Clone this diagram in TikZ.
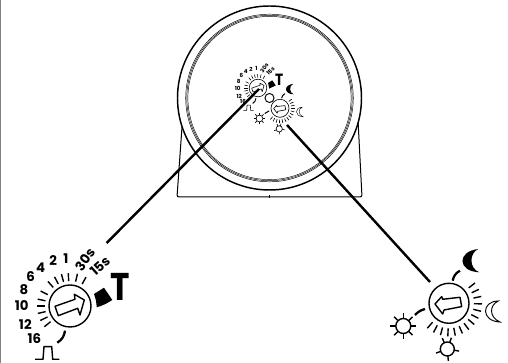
\documentclass[tikz,border=0pt]{standalone}
\usepackage{fontspec}
\setmainfont{Poppins}
\usepackage{tikz}
% timer dial, drawn around the origin; #1 = place, #2 = scale
\newcommand{\dialtimer}[2]{%
  \begin{scope}[shift={(#1)}, scale=#2, transform shape, line width=#2*1.05pt]
    \draw (0,0) circle (21);
    \foreach \a in {61,77,93,105,118,132,153,168,180,193,206,219}
      \draw (\a:25) -- (\a:33);
    \draw[line join=round] (-15,-0.3) -- (5,6.7) -- (4.3,11.7) -- (14.3,6) -- (10,-9) -- (7.7,-2.3) -- (-11.7,-9.7) -- cycle;
    \foreach \t/\x/\y/\r in {15s/30/40/42, 30s/15/46.7/55, 1/-4/47/0, 2/-16.7/45.3/0, 4/-29.3/38.7/0, 6/-39.3/29.3/0, 8/-46/16/0, 10/-48.3/0/0, 12/-44.7/-19/0, 16/-35.7/-33/0}
      \node[dialtext, rotate=\r] at (\x,\y) {\t};
    \fill (24,12) -- (34,18.3) -- (42.3,6) to[bend left=8] (26.7,-1.3) to[bend right=8] cycle;
    \node[dialtext, font=\fontsize{29}{29}\selectfont\bfseries, xscale=0.85] at (50.7,19.3) {T};
    \draw[line width=#2*1.7pt] (-5,-24.7) to[bend left=25] (-12.7,-36.7);
    \draw (-35,-53.3) -- (-27,-53.3) -- (-26,-40.7) -- (-18.3,-40.7) -- (-17.3,-53.3) -- (-10.7,-53.3);
  \end{scope}}
% day/night dial
\newcommand{\dialsun}[2]{%
  \begin{scope}[shift={(#1)}, scale=#2, transform shape, line width=#2*1.05pt]
    \draw (0,0) circle (20);
    \foreach \a in {38,25,12,-1,-14,-27,-40,-53,-66,-79,-92,-105,-118,-131}
      \draw (\a:25) -- (\a:33);
    \draw[line join=round] (-14,-0.7) -- (-7.3,6.7) -- (-6.3,4) -- (11,6) -- (12.7,-3.3) -- (-5,-6.7) -- (-6.3,-10.7) -- cycle;
    \draw[line width=#2*1.7pt] (3.7,22.6) to[bend left=25] (11,32.6);
    \draw[line width=#2*1.7pt] (-34,-11.7) to[bend left=15] (-24,-5.7);
    \fill (29.3,54.3) .. controls (8,52) and (8,32) .. (30.3,31) .. controls (20,35) and (20,50) .. cycle;
    \draw[line width=#2*0.7pt] (49.3,2.3) .. controls (32,2) and (32,-18) .. (51,-18.7) .. controls (40,-14) and (40,-2) .. cycle;
    \draw (-45.7,-22.7) circle (7.5);
    \foreach \a in {0,45,...,315}
      \draw ([shift={(\a:8)}]-45.7,-22.7) -- ([shift={(\a:13)}]-45.7,-22.7);
    \draw (-1.7,-45.7) circle (7);
    \foreach \a in {70,115,-10,200,-85}
      \draw ([shift={(\a:7)}]-1.7,-45.7) -- ([shift={(\a:12)}]-1.7,-45.7);
  \end{scope}}
\begin{document}
\begin{tikzpicture}[
    x=0.75pt, y=0.75pt,
    dialtext/.style={inner sep=0pt, font=\fontsize{10}{10}\selectfont\bfseries},
    wheel/.style={draw, circle, line width=1.1pt, minimum size=138pt, inner sep=0pt},
    ring/.style={line width=0.35pt},
    hub/.style={draw, circle, line width=0.7pt, minimum size=6.8pt, inner sep=0pt},
    leader/.style={line width=1.8pt}
  ]
  \useasboundingbox (0,0) rectangle (508,363);
  \draw[gray, line width=1.1pt] (0.5,0) -- (0.5,363);

  % stand
  \draw[line width=0.75pt, rounded corners=1.5pt] (182,236) -- (177,166) -- (362,166) -- (358,243);
  \draw[line width=0.5pt] (269,168) -- (269,165);

  \node[wheel, fill=white] (wheel) at (269.5,265) {};
  \foreach \r in {83.8,82.7,81.6}
    \draw[ring] (wheel.center) circle (\r);
  \node[hub] (hub) at (wheel.center) {};

  \dialtimer{258,275}{0.42}
  \dialsun{280,254.7}{0.45}
  \dialtimer{70,57}{1}
  \dialsun{449,59.7}{1}

  \coordinate (timerfar) at (106.7,120);
  \coordinate (timernear) at (259,274);
  \coordinate (sunfar) at (430,81);
  \coordinate (sunnear) at (287,238);
  \draw[leader] (timerfar) -- (timernear);
  \draw[leader] (sunfar) -- (sunnear);
\end{tikzpicture}
\end{document}
